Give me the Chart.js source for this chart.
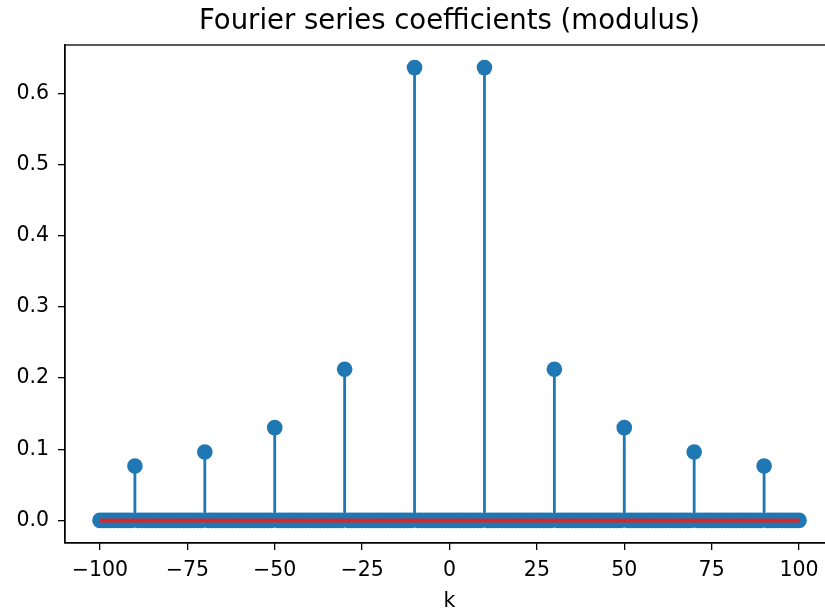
<!DOCTYPE html>
<html>
<head>
<meta charset="utf-8">
<script src="https://cdn.jsdelivr.net/npm/chart.js@4"></script>
<style>
html, body { margin: 0; padding: 0; background: #fff; overflow: hidden; }
#wrap { position: relative; width: 845px; height: 616px; }
</style>
</head>
<body>
<div id="wrap"><canvas id="c"></canvas></div>
<script>
// Sample indices k (integers from -100 to 100)
const kFirst = -100;
const kLast = 100;
// Non-zero coefficients
const peakK = [-90, -70, -50, -30, -10, 10, 30, 50, 70, 90];
const peakModulus = [0.0764, 0.0961, 0.1304, 0.2124, 0.6366, 0.6366, 0.2124, 0.1304, 0.0961, 0.0764];
// Tick labels
const xTicks = [-100, -75, -50, -25, 0, 25, 50, 75, 100];
const yTicks = [0.0, 0.1, 0.2, 0.3, 0.4, 0.5, 0.6];

const blue = '#1f77b4';
const red = '#d62728';

// markers: every k, zero unless it is a peak
const markerPts = [];
for (let k = kFirst; k <= kLast; k++) {
  const i = peakK.indexOf(k);
  markerPts.push({ x: k, y: i >= 0 ? peakModulus[i] : 0 });
}
// stem lines: segments from 0 to value, separated by gaps
const stemPts = [];
markerPts.forEach(p => {
  stemPts.push({ x: p.x, y: 0 });
  stemPts.push({ x: p.x, y: p.y });
  stemPts.push({ x: p.x, y: null });
});
const basePts = [{ x: kFirst, y: 0 }, { x: kLast, y: 0 }];

const frame = {
  id: 'frame',
  afterDatasetsDraw(chart) {
    const a = chart.chartArea, ctx = chart.ctx;
    ctx.save();
    ctx.strokeStyle = '#000';
    ctx.lineWidth = 1.3;
    ctx.strokeRect(a.left, a.top, a.right - a.left, a.bottom - a.top);
    ctx.restore();
  }
};

const fmtX = v => (v < 0 ? '\u2212' + Math.abs(v) : String(v));

new Chart(document.getElementById('c'), {
  type: 'scatter',
  data: {
    datasets: [
      { type: 'line', data: basePts, borderColor: red, borderWidth: 4, pointRadius: 0, order: 0 },
      { type: 'scatter', data: markerPts, backgroundColor: blue, borderColor: blue, borderWidth: 0, pointRadius: 7.8, pointHoverRadius: 7.8, order: 1 },
      { type: 'line', data: stemPts, borderColor: blue, borderWidth: 2.8, pointRadius: 0, spanGaps: false, order: 2 }
    ]
  },
  options: {
    responsive: true,
    maintainAspectRatio: false,
    animation: false,
    events: [],
    layout: { padding: { left: 0, right: 11, top: 0, bottom: 0 } },
    plugins: {
      legend: { display: false },
      tooltip: { enabled: false },
      title: {
        display: true,
        fullSize: false,
        text: 'Fourier series coefficients (modulus)',
        color: '#000',
        font: { family: 'DejaVu Sans', size: 27.5, weight: 'normal' },
        padding: { top: 5, bottom: 7 }
      }
    },
    scales: {
      x: {
        type: 'linear',
        min: -110,
        max: 110,
        afterBuildTicks: s => { s.ticks = xTicks.map(v => ({ value: v })); },
        afterFit: s => { s.height = 73; },
        grid: { display: true, drawOnChartArea: false, drawTicks: true, tickLength: 7, color: '#000', lineWidth: 1.3 },
        border: { display: true, color: '#000', width: 1.3 },
        ticks: { color: '#000', padding: 8, maxRotation: 0, autoSkip: false, font: { family: 'DejaVu Sans', size: 20.5 }, callback: v => fmtX(v) },
        title: { display: true, text: 'k', color: '#000', font: { family: 'DejaVu Sans', size: 20.5 }, padding: { top: 0, bottom: 2 } }
      },
      y: {
        type: 'linear',
        min: -0.0318,
        max: 0.6684,
        afterBuildTicks: s => { s.ticks = yTicks.map(v => ({ value: v })); },
        afterFit: s => { s.width = 65; },
        grid: { display: true, drawOnChartArea: false, drawTicks: true, tickLength: 7, color: '#000', lineWidth: 1.3 },
        border: { display: true, color: '#000', width: 1.3 },
        ticks: { color: '#000', padding: 9, autoSkip: false, font: { family: 'DejaVu Sans', size: 20.5 }, callback: v => Number(v).toFixed(1) }
      }
    }
  },
  plugins: [frame]
});
</script>
</body>
</html>
